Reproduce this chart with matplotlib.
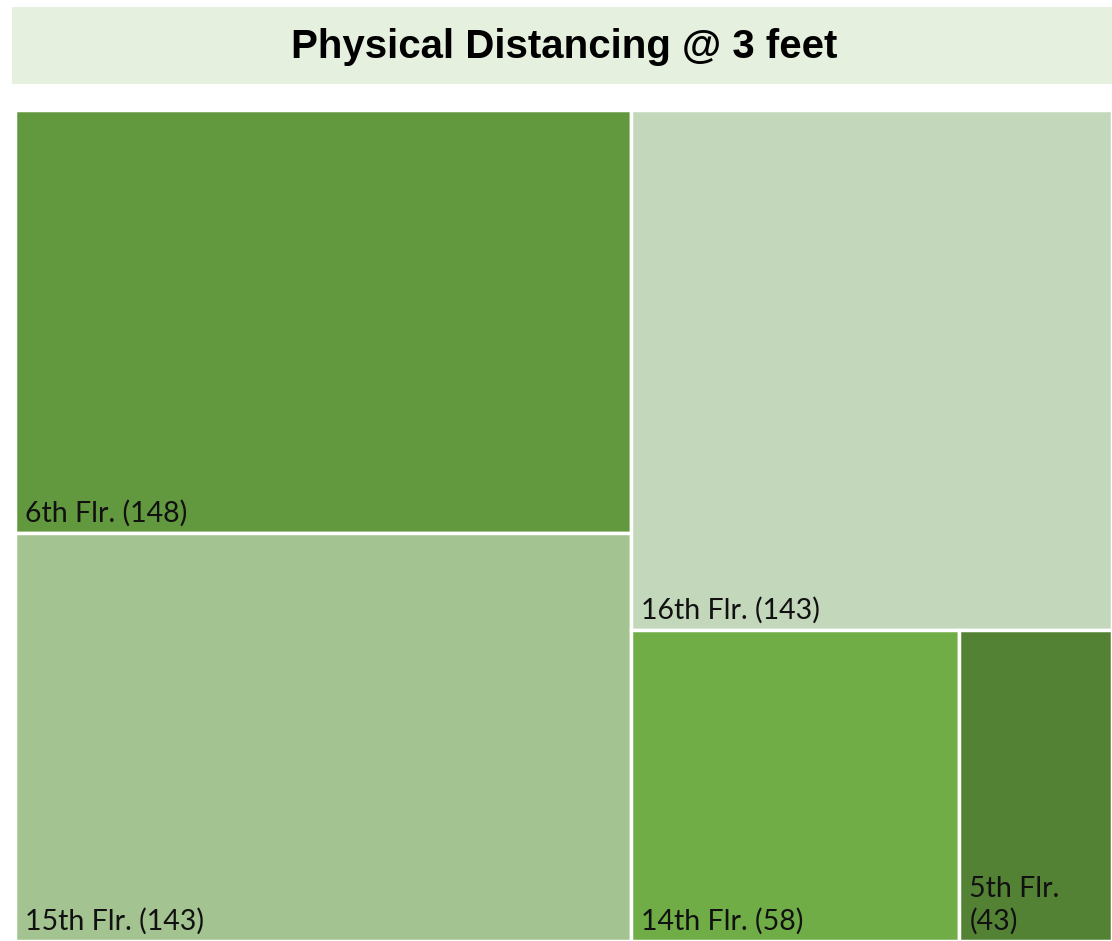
import matplotlib.pyplot as plt
from matplotlib.patches import Rectangle

# Floors and the counts shown in the labels
floors = ['6th Flr.', '15th Flr.', '16th Flr.', '14th Flr.', '5th Flr.']
counts = [148, 143, 143, 58, 43]
# Tile sizes
sizes = [148, 143, 142, 58, 27]
colors = ['#62993E', '#A3C490', '#C3D7BA', '#70AD47', '#548235']

W, H = 1112, 941
fig = plt.figure(figsize=(W / 100, H / 100), dpi=100)

# title band
fig.patches.append(Rectangle((12 / W, 1 - 84 / H), (W - 12) / W, 77 / H,
                             transform=fig.transFigure, facecolor='#E5F0DE',
                             edgecolor='none'))
fig.text(564 / W, 1 - 47 / H, 'Physical Distancing @ 3 feet',
         family=['Liberation Sans', 'DejaVu Sans'], weight='bold',
         fontsize=29, ha='center', va='center', color='black')

ax = fig.add_axes([15 / W, 0, (W - 15) / W, (H - 110) / H])
ax.set_xlim(0, 1)
ax.set_ylim(1, 0)
ax.axis('off')

# simple slice layout: left column = first two, right = third on top, last two side by side
total = sum(sizes)
left_w = (sizes[0] + sizes[1]) / total
rest = sizes[2] + sizes[3] + sizes[4]
top_h = sizes[2] / rest
bot_w = sizes[3] / (sizes[3] + sizes[4])
h0 = sizes[0] / (sizes[0] + sizes[1])
rects = [
    (0, 0, left_w, h0),
    (0, h0, left_w, 1 - h0),
    (left_w, 0, 1 - left_w, top_h),
    (left_w, top_h, (1 - left_w) * bot_w, 1 - top_h),
    (left_w + (1 - left_w) * bot_w, top_h, (1 - left_w) * (1 - bot_w), 1 - top_h),
]

pw = (W - 15)
ph = (H - 110)
for i, (x, y, w, h) in enumerate(rects):
    ax.add_patch(Rectangle((x, y), w, h, facecolor=colors[i], edgecolor='white',
                           linewidth=2.5))
    label = f'{floors[i]} ({counts[i]})'
    if w * pw < 200:
        label = f'{floors[i]}\n({counts[i]})'
    ax.text(x + 10 / pw, y + h - 6 / ph, label, ha='left', va='bottom',
            fontsize=20.5, family=['Lato', 'DejaVu Sans'], color='#111111',
            linespacing=1.3)

fig.savefig('out.png', dpi=100)
